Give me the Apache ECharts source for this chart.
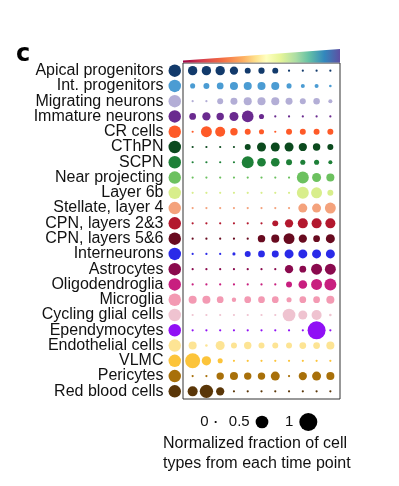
<!DOCTYPE html>
<html lang="en">
<head>
<meta charset="UTF-8">
<title>Cell types per time point</title>
<script src="https://cdn.jsdelivr.net/npm/echarts@6/dist/echarts.min.js"></script>
<style>
  body, html { padding: 0; margin: 0; background: #fff; }
</style>
</head>
<body>
<div id="chart" style="width:399px;height:486px;"></div>
<script>
var cellTypes = ['Apical progenitors', 'Int. progenitors', 'Migrating neurons', 'Immature neurons',
  'CR cells', 'CThPN', 'SCPN', 'Near projecting', 'Layer 6b', 'Stellate, layer 4',
  'CPN, layers 2&3', 'CPN, layers 5&6', 'Interneurons', 'Astrocytes', 'Oligodendroglia',
  'Microglia', 'Cycling glial cells', 'Ependymocytes', 'Endothelial cells', 'VLMC',
  'Pericytes', 'Red blood cells'];

var typeColors = ['#123a6b', '#4b9cd3', '#b3aed6', '#6a2a8f', '#fe5a28', '#0b4a1e', '#1e8038',
  '#6cc15f', '#d8ee8c', '#f4a27c', '#b3182e', '#680a1f', '#2a2ae8', '#8a0a4e', '#c81f7f',
  '#f39ab3', '#efc3d0', '#9010f5', '#fde494', '#fcc43a', '#a8700a', '#5a3608'];

var timePoints = [1, 2, 3, 4, 5, 6, 7, 8, 9, 10, 11];

// normalized fraction, one row per cell type, one value per time point
var fractions = [
  [0.27, 0.27, 0.27, 0.21, 0.11, 0.12, 0.11, 0.01, 0.01, 0.01, 0.01],
  [0.08, 0.11, 0.14, 0.2, 0.2, 0.2, 0.2, 0.08, 0.05, 0.05, 0.02],
  [0.015, 0.015, 0.11, 0.15, 0.2, 0.2, 0.2, 0.15, 0.11, 0.13, 0.05],
  [0.14, 0.21, 0.17, 0.25, 0.42, 0.08, 0.01, 0.01, 0.01, 0.01, 0.01],
  [0.01, 0.37, 0.31, 0.17, 0.11, 0.08, 0.01, 0.11, 0.11, 0.11, 0.11],
  [0.01, 0.01, 0.01, 0.01, 0.11, 0.25, 0.25, 0.25, 0.21, 0.17, 0.11],
  [0.01, 0.01, 0.01, 0.01, 0.44, 0.23, 0.23, 0.11, 0.08, 0.08, 0.05],
  [0.01, 0.01, 0.01, 0.01, 0.01, 0.01, 0.01, 0.01, 0.44, 0.25, 0.2],
  [0.01, 0.01, 0.01, 0.01, 0.01, 0.01, 0.01, 0.01, 0.44, 0.37, 0.11],
  [0.01, 0.01, 0.01, 0.01, 0.01, 0.01, 0.01, 0.01, 0.25, 0.25, 0.37],
  [0.01, 0.01, 0.01, 0.01, 0.01, 0.01, 0.11, 0.21, 0.31, 0.31, 0.31],
  [0.01, 0.01, 0.01, 0.01, 0.01, 0.17, 0.2, 0.37, 0.21, 0.14, 0.25],
  [0.01, 0.01, 0.01, 0.03, 0.11, 0.14, 0.15, 0.25, 0.25, 0.25, 0.25],
  [0.01, 0.01, 0.01, 0.01, 0.01, 0.01, 0.01, 0.21, 0.14, 0.37, 0.37],
  [0.01, 0.01, 0.01, 0.01, 0.01, 0.01, 0.01, 0.11, 0.23, 0.37, 0.44],
  [0.2, 0.2, 0.14, 0.06, 0.14, 0.14, 0.14, 0.08, 0.14, 0.14, 0.2],
  [0.01, 0.01, 0.01, 0.01, 0.01, 0.01, 0.01, 0.5, 0.25, 0.31, 0.02],
  [0.015, 0.015, 0.015, 0.015, 0.015, 0.015, 0.015, 0.015, 0.015, 1.0, 0.015],
  [0.2, 0.02, 0.25, 0.11, 0.17, 0.11, 0.11, 0.11, 0.14, 0.14, 0.2],
  [0.69, 0.27, 0.08, 0.015, 0.015, 0.015, 0.015, 0.015, 0.015, 0.015, 0.015],
  [0.015, 0.015, 0.17, 0.2, 0.17, 0.17, 0.25, 0.015, 0.21, 0.25, 0.2],
  [0.31, 0.55, 0.21, 0.01, 0.01, 0.01, 0.01, 0.01, 0.01, 0.01, 0.01]
];

var sizeKeys = ['0', '0.5', '1'];
var sizeKeyValues = [0, 0.5, 1];

var FONT = '"Liberation Sans", Arial, sans-serif';
var MAXD = 18;
function dotSize(v) { return Math.max(2.2, MAXD * Math.sqrt(v)); }

var dots = [];
fractions.forEach(function (row, r) {
  row.forEach(function (v, c) {
    dots.push({ value: [timePoints[c], r, v], itemStyle: { color: typeColors[r], opacity: 1 } });
  });
});

var chart = echarts.init(document.getElementById('chart'));
chart.setOption({
  animation: false,
  grid: [
    { left: 183, right: 59, top: 63, bottom: 87, show: true, borderColor: '#333', borderWidth: 1 },
    { left: 168.5, width: 12.5, top: 63, bottom: 87 },
    { left: 192.5, width: 139, top: 410, height: 24 }
  ],
  xAxis: [
    { gridIndex: 0, type: 'value', min: 0.3, max: 11.7, show: false },
    { gridIndex: 1, type: 'value', min: -1, max: 1, show: false },
    { gridIndex: 2, type: 'category', data: sizeKeys, show: false }
  ],
  yAxis: [
    { gridIndex: 0, type: 'category', data: cellTypes, inverse: true, show: false },
    {
      gridIndex: 1, type: 'category', data: cellTypes, inverse: true,
      axisLine: { show: false }, axisTick: { show: false },
      axisLabel: { margin: 5, fontSize: 16, color: '#111', fontFamily: FONT, interval: 0 }
    },
    { gridIndex: 2, type: 'value', min: -1, max: 1, show: false }
  ],
  series: [
    {
      type: 'scatter', xAxisIndex: 0, yAxisIndex: 0,
      data: dots,
      symbolSize: function (d) { return dotSize(d[2]); }
    },
    {
      type: 'scatter', xAxisIndex: 1, yAxisIndex: 1,
      data: cellTypes.map(function (n, i) {
        return { value: [0, i], itemStyle: { color: typeColors[i], opacity: 1 } };
      }),
      symbolSize: 12.5
    },
    {
      type: 'scatter', xAxisIndex: 2, yAxisIndex: 2,
      data: sizeKeys.map(function (k, i) { return [k, 0, sizeKeyValues[i]]; }),
      symbolSize: function (d) { return dotSize(d[2]); },
      itemStyle: { color: '#000', opacity: 1 },
      label: {
        show: true, position: 'left', distance: 6,
        formatter: function (p) { return p.value[0]; },
        fontSize: 15, color: '#111', fontFamily: FONT
      }
    }
  ],
  graphic: [
    {
      type: 'polygon',
      shape: { points: [[183, 62.5], [340, 62.5], [340, 49], [183, 60.5]] },
      style: {
        fill: new echarts.graphic.LinearGradient(0, 0, 1, 0, [
          { offset: 0, color: '#9e0142' },
          { offset: 0.12, color: '#d53e4f' },
          { offset: 0.25, color: '#f46d43' },
          { offset: 0.38, color: '#fdae61' },
          { offset: 0.46, color: '#fee08b' },
          { offset: 0.53, color: '#ffffbf' },
          { offset: 0.62, color: '#e6f598' },
          { offset: 0.72, color: '#abdda4' },
          { offset: 0.8, color: '#66c2a5' },
          { offset: 0.9, color: '#3288bd' },
          { offset: 1, color: '#5e4fa2' }
        ])
      }
    },
    {
      type: 'text', left: 16, top: 43,
      style: { text: 'c', fontSize: 24, fontWeight: 'bold', fill: '#000', fontFamily: '"DejaVu Sans", Arial, sans-serif' }
    },
    {
      type: 'text', left: 163, top: 434,
      style: {
        text: 'Normalized fraction of cell\ntypes from each time point',
        fontSize: 16, lineHeight: 20, fill: '#111', fontFamily: FONT, align: 'center', x: 100
      }
    }
  ]
});
</script>
</body>
</html>
